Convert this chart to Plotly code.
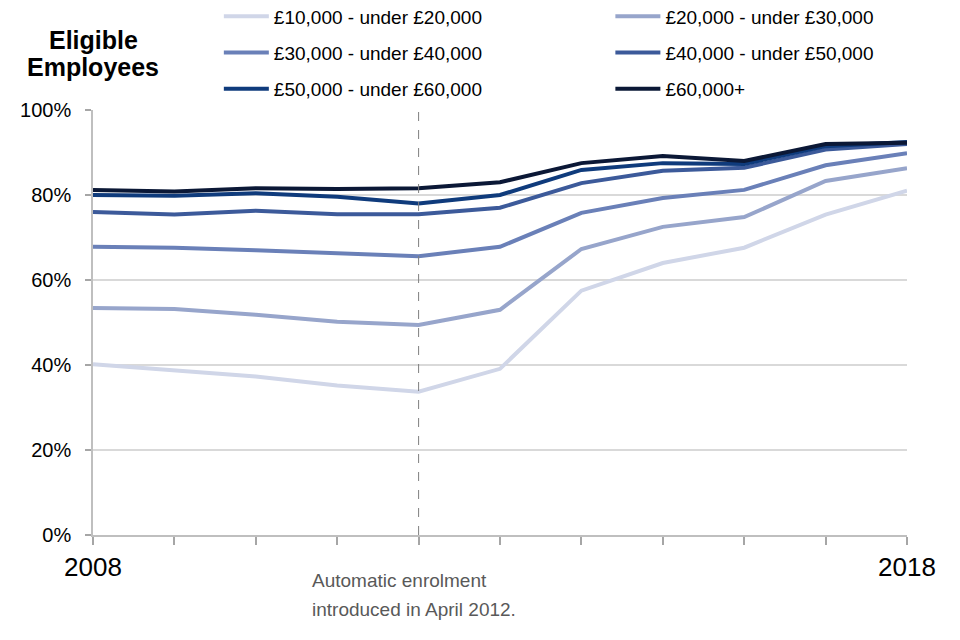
import plotly.graph_objects as go

years = list(range(2008, 2019))
band_names = ["£10,000 - under £20,000", "£20,000 - under £30,000",
              "£30,000 - under £40,000", "£40,000 - under £50,000",
              "£50,000 - under £60,000", "£60,000+"]
band_10_20 = [40.2, 38.8, 37.3, 35.2, 33.7, 39.1, 57.5, 64.0, 67.6, 75.4, 81.0]
band_20_30 = [53.4, 53.2, 51.8, 50.2, 49.4, 53.0, 67.3, 72.5, 74.8, 83.3, 86.3]
band_30_40 = [67.8, 67.6, 67.0, 66.3, 65.6, 67.8, 75.8, 79.3, 81.2, 87.0, 89.8]
band_40_50 = [76.0, 75.4, 76.3, 75.5, 75.5, 77.0, 82.8, 85.7, 86.4, 90.7, 92.0]
band_50_60 = [80.0, 79.8, 80.4, 79.6, 78.0, 80.0, 85.9, 87.5, 87.3, 91.5, 92.5]
band_60_plus = [81.2, 80.8, 81.6, 81.4, 81.6, 83.0, 87.5, 89.2, 88.0, 92.0, 92.3]
series = [band_10_20, band_20_30, band_30_40, band_40_50, band_50_60, band_60_plus]
colors = ["#d0d6e8", "#97a5cb", "#6a80b8", "#3c5a9a", "#0f3b7c", "#0b1836"]
y_ticks = [0, 20, 40, 60, 80, 100]
y_tick_labels = ["0%", "20%", "40%", "60%", "80%", "100%"]
x_tick_labels = ["2008"] + [""] * 9 + ["2018"]
ae_year = 2012

FONT = "Liberation Sans, Arial, sans-serif"

fig = go.Figure()
for i, (name, vals, col) in enumerate(zip(band_names, series, colors)):
    fig.add_trace(go.Scatter(
        x=years, y=vals, mode="lines", name=name,
        line=dict(color=col, width=4),
        legend="legend" if i % 2 == 0 else "legend2",
        legendgroup=f"g{i}",
        hoverinfo="skip",
    ))

fig.add_shape(type="line", x0=ae_year, x1=ae_year, y0=0, y1=1, yref="paper",
              line=dict(color="#7f7f7f", width=1, dash="dash"))

legend_common = dict(
    orientation="v", xanchor="left", yanchor="top", y=1.2647,
    bgcolor="rgba(0,0,0,0)", borderwidth=0, tracegroupgap=8.5, itemwidth=45,
    font=dict(family=FONT, size=19, color="#000000"),
)
fig.update_layout(
    width=960, height=640,
    margin=dict(l=85, r=61, t=102, b=113, autoexpand=False),
    paper_bgcolor="white", plot_bgcolor="white",
    font=dict(family=FONT, color="#000000"),
    legend=dict(x=0.1546, **legend_common),
    legend2=dict(x=0.6356, **legend_common),
    xaxis=dict(range=[2008, 2018], tickvals=years, ticktext=x_tick_labels,
               ticks="outside", ticklen=8, tickcolor="#a6a6a6", tickwidth=1.5,
               showgrid=False, showline=True, linecolor="#bfbfbf", linewidth=2,
               tickfont=dict(family=FONT, size=26, color="#000000"),
               ticklabelstandoff=0, zeroline=False),
    yaxis=dict(range=[0, 100], tickvals=y_ticks, ticktext=y_tick_labels,
               ticks="outside", ticklen=6, tickcolor="#a6a6a6", tickwidth=1.5,
               showgrid=True, gridcolor="#d9d9d9", gridwidth=2,
               showline=True, linecolor="#bfbfbf", linewidth=1.5,
               tickfont=dict(family=FONT, size=20, color="#000000"),
               ticklabelstandoff=10, zeroline=False),
)

fig.add_annotation(text="<b>Eligible</b>", x=0, y=1.165, xref="paper", yref="paper",
                   xanchor="center", yanchor="middle", showarrow=False,
                   font=dict(family=FONT, size=25, color="#000000"))
fig.add_annotation(text="<b>Employees</b>", x=0, y=1.101, xref="paper", yref="paper",
                   xanchor="center", yanchor="middle", showarrow=False,
                   font=dict(family=FONT, size=25, color="#000000"))
fig.add_annotation(text="Automatic enrolment", x=0.2666, y=-0.106, xref="paper", yref="paper",
                   xanchor="left", yanchor="middle", showarrow=False,
                   font=dict(family=FONT, size=19, color="#595959"))
fig.add_annotation(text="introduced in April 2012.", x=0.2666, y=-0.175, xref="paper", yref="paper",
                   xanchor="left", yanchor="middle", showarrow=False,
                   font=dict(family=FONT, size=19, color="#595959"))

fig.write_html("out.html")
